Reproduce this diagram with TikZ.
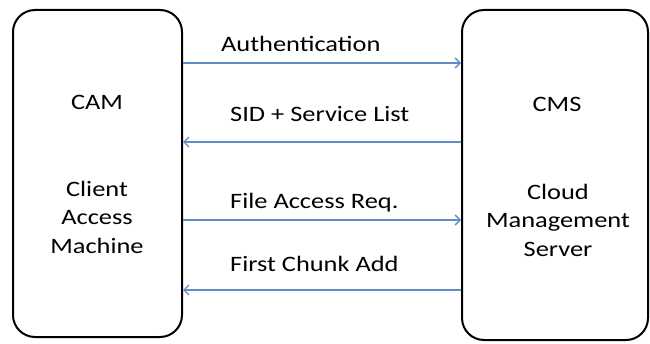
\documentclass[tikz,border=0pt]{standalone}
\usepackage{fontspec}
\setmainfont{Carlito}[FakeStretch=1.2]
\usepackage{xcolor}
\usepackage{tikz}
\usetikzlibrary{arrows.meta,positioning}
\definecolor{msgblue}{RGB}{96,140,200}

\begin{document}
\begin{tikzpicture}[x=1pt,y=1pt,
  machine/.style={draw,line width=2pt,rounded corners=22pt,inner sep=0pt},
  msg/.style={msgblue,line width=1.4pt,-{Straight Barb[length=5pt,width=10pt]}},
  lbl/.style={font=\fontsize{22}{28.5}\selectfont,inner sep=0pt,align=center},
  msglbl/.style={font=\fontsize{22}{26}\selectfont,inner sep=0pt,anchor=base west}]
\useasboundingbox (0,0) rectangle (650,343);
\node[machine,minimum width=169pt,minimum height=327pt] (cam) at (97.5,169.5) {};
\node[machine,minimum width=186pt,minimum height=330pt] (cms) at (555,168) {};
\node[lbl,anchor=base] (camname) at (97,233) {CAM};
\node[lbl] (camlong) at (97,126) {Client\\Access\\Machine};
\node[lbl,anchor=base] (cmsname) at (557,231) {CMS};
\node[lbl] (cmslong) at (558,123) {Cloud\\Management\\Server};
\coordinate (m1) at (0,280);
\coordinate (m2) at (0,201);
\coordinate (m3) at (0,123);
\coordinate (m4) at (0,53);
\draw[msg] (cam.east |- m1) -- (cms.west |- m1);
\draw[msg] (cms.west |- m2) -- (cam.east |- m2);
\draw[msg] (cam.east |- m3) -- (cms.west |- m3);
\draw[msg] (cms.west |- m4) -- (cam.east |- m4);
\node[msglbl] (auth) at (221,291) {Authentication};
\node[msglbl] (sid) at (230,221) {SID + Service List};
\node[msglbl] (req) at (230,135) {File Access Req.};
\node[msglbl] (chunk) at (230,72) {First Chunk Add};
\end{tikzpicture}
\end{document}
